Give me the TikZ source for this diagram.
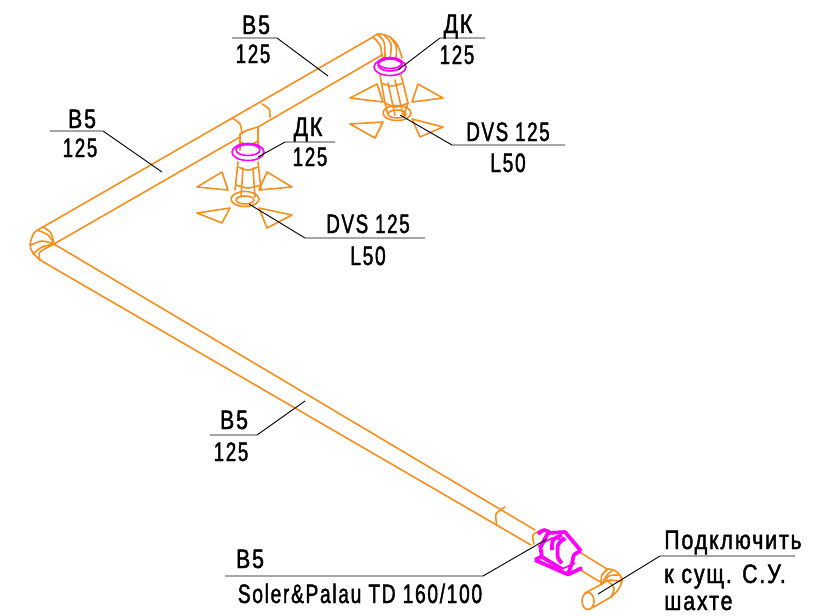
\documentclass[tikz,border=0pt]{standalone}
\usepackage{graphicx}
\usepackage{fontspec}
\setmainfont[FakeStretch=0.8,LetterSpace=7,FakeBold=1.6]{Liberation Sans}
\definecolor{pipe}{RGB}{247,142,30}
\definecolor{fan}{RGB}{255,0,255}
\newcommand\narrowed[2]{\scalebox{#1}[1]{#2}}
\tikzset{
  pipeline/.style={draw=pipe,line width=1.2pt,line join=round,line cap=round},
  fanline/.style={draw=fan,line width=1.2pt,line join=round},
  fanthick/.style={draw=fan,line width=2.8pt,line join=round},
  leader/.style={draw=black,line width=.7pt},
  lbl/.style={font=\fontsize{20}{22}\selectfont,text=black,inner sep=0pt,anchor=base},
  lbll/.style={lbl,anchor=base west},
}
\begin{document}
\begin{tikzpicture}[x=.75pt,y=-.75pt]
\useasboundingbox (0,0) rectangle (821,615);
% ---- pipes
\draw[pipeline] (43,227) -- (373,37);
\draw[pipeline] (54,244) -- (240,137);
\draw[pipeline] (258,127) -- (382,55);
\draw[pipeline] (54,244) -- (535,530);
\draw[pipeline] (40,260) -- (531,545);
\draw[pipeline] (581,553) -- (607,569);
\draw[pipeline] (577,568) -- (602,583);
% corner elbow
\draw[pipeline] plot[smooth] coordinates {(43,227) (34,233) (30,245) (33,253) (40,260)};
\draw[pipeline] plot[smooth] coordinates {(43,227) (51,233) (54,244)};
\draw[pipeline] plot[smooth] coordinates {(37,230) (48,235) (54,244)};
\draw[pipeline] plot[smooth] coordinates {(31,245) (42,241) (54,244)};
\draw[pipeline] plot[smooth] coordinates {(33,254) (42,247) (54,244)};
\draw[pipeline] plot[smooth] coordinates {(40,260) (40,252) (54,244)};
% pipe joints
\draw[pipeline] plot[smooth] coordinates {(232,118) (240,124) (242,134)};
\draw[pipeline] plot[smooth] coordinates {(262,104) (269,109) (270,117)};
\draw[pipeline] plot[smooth] coordinates {(505,507) (496,514) (497,526)};
\draw[pipeline] plot[smooth] coordinates {(541,530) (533,535) (534,544)};
% top elbow
\draw[pipeline] plot[smooth] coordinates {(373,37) (379,34) (390,37) (398,46) (402,58)};
\draw[pipeline] plot[smooth] coordinates {(373,37) (380,45) (382,55) (384,60)};
\draw[pipeline] plot[smooth] coordinates {(377,34) (384,42) (385,58)};
\draw[pipeline] plot[smooth] coordinates {(384,35) (391,44) (390,59)};
\draw[pipeline] plot[smooth] coordinates {(390,37) (396,46) (396,59)};
% right drop
\draw[pipeline] (380,75) -- (385,103) -- (388,115);
\draw[pipeline] (401,75) -- (408,103) -- (404,115);
\draw[pipeline] plot[smooth] coordinates {(381,83) (392,86) (403,83)};
\draw[pipeline] plot[smooth] coordinates {(385,103) (396,107) (408,103)};
\draw[pipeline] (388,83) -- (395,115);
\draw[pipeline] (395,80) -- (403,115);
\draw[pipeline] (397,113) ellipse [x radius=14,y radius=7.5];
\draw[pipeline] (397,114) ellipse [x radius=9,y radius=4];
\draw[pipeline] (350,98) -- (377,84) -- (383,102) -- cycle;
\draw[pipeline] (412,102) -- (418,84) -- (443,98) -- cycle;
\draw[pipeline] (350,124) -- (383,122) -- (375,138) -- cycle;
\draw[pipeline] (412,119) -- (443,127) -- (420,137) -- cycle;
\draw[fanline] (390,67) ellipse [x radius=16,y radius=8.5];
\draw[fanline] (390,65) ellipse [x radius=12,y radius=6];
\draw[fanline] (390,63) ellipse [x radius=12,y radius=5.5];
% left drop
\draw[pipeline] plot[smooth] coordinates {(240,134) (248,130) (258,127)};
\draw[pipeline] (240,134) -- (240,150);
\draw[pipeline] (258,127) -- (258,148);
\draw[pipeline] plot[smooth] coordinates {(240,142) (249,145) (258,141)};
\draw[pipeline] (238,162) -- (235,190);
\draw[pipeline] (258,162) -- (261,190);
\draw[pipeline] plot[smooth] coordinates {(238,167) (248,170) (258,167)};
\draw[pipeline] plot[smooth] coordinates {(236,185) (248,188) (261,185)};
\draw[pipeline] (243,168) -- (241,197);
\draw[pipeline] (253,168) -- (255,197);
\draw[pipeline] (245,199) ellipse [x radius=14,y radius=7.5];
\draw[pipeline] (245,200) ellipse [x radius=9,y radius=4];
\draw[pipeline] (197,187) -- (222,172) -- (228,190) -- cycle;
\draw[pipeline] (259,190) -- (267,172) -- (292,187) -- cycle;
\draw[pipeline] (197,213) -- (230,208) -- (222,223) -- cycle;
\draw[pipeline] (259,208) -- (292,215) -- (267,228) -- cycle;
\draw[fanline] (248,152) ellipse [x radius=16,y radius=8.5];
\draw[fanline] (248,150) ellipse [x radius=12,y radius=5.5];
% fan
\draw[fanthick] (535,560) -- (568,574.5) -- (582,568);
\draw[fanthick] (535,560) -- (542,556);
\draw[fanthick] (568,574) -- (572,563);
\draw[fanthick] (540,545) -- (542,557) -- (562,569);
\draw[fanthick] plot[smooth] coordinates {(538,534) (544,530) (549,532)};
\draw[fanthick] (548,533) -- (565,532) -- (581,551);
\draw[fanthick] (548,533) -- (540,548);
\draw[fanthick] plot[smooth] coordinates {(581,551) (574,555) (572,565)};
\draw[fanthick] plot[smooth] coordinates {(565,538) (558,545) (558,558) (562,563)};
\draw[fanthick] plot[smooth] coordinates {(562,535) (553,540) (552,550)};
\draw[fanline] (543,543) -- (552,538) -- (566,540);
\draw[fanline] (562,569) -- (575,563);
% outlet
\draw[pipeline] plot[smooth] coordinates {(602,575) (608,569) (617,572) (622,580) (618,590) (611,597)};
\draw[pipeline] plot[smooth] coordinates {(608,569) (602,575) (601,584)};
\draw[pipeline] plot[smooth] coordinates {(613,570) (607,575) (602,584)};
\draw[pipeline] plot[smooth] coordinates {(618,575) (609,576) (602,584)};
\draw[pipeline] plot[smooth] coordinates {(622,582) (610,580) (602,584)};
\draw[pipeline] plot[smooth] coordinates {(607,580) (614,588) (611,597)};
\draw[pipeline] (585,593) -- (602,584);
\draw[pipeline] (592,608) -- (611,597);
\draw[pipeline] (588,601) ellipse [x radius=6,y radius=8.5];
% ---- labels
\node[lbl] (a1) at (256,34) {B5};
\node[lbl] (a2) at (253,63) {\narrowed{.88}{125}};
\node[lbl] (b1) at (82,128) {B5};
\node[lbl] (b2) at (80,157) {\narrowed{.88}{125}};
\node[lbl] (c1) at (458,33) {ДК};
\node[lbl] (c2) at (457,64) {\narrowed{.88}{125}};
\node[lbl] (d1) at (308,136) {ДК};
\node[lbl] (d2) at (310,166) {\narrowed{.88}{125}};
\node[lbl] (e1) at (508,141) {\narrowed{.88}{DVS 125}};
\node[lbl] (e2) at (508,172) {\narrowed{.9}{L50}};
\node[lbl] (f1) at (368,233) {\narrowed{.88}{DVS 125}};
\node[lbl] (f2) at (368,265) {\narrowed{.9}{L50}};
\node[lbl] (g1) at (234,429) {B5};
\node[lbl] (g2) at (231,461) {\narrowed{.88}{125}};
\node[lbl] (h1) at (250,568) {B5};
\node[lbl] (h2) at (360,603) {\narrowed{.9}{Soler\&Palau TD 160/100}};
\node[lbll] (k1) at (664,549) {\narrowed{1.0}{Подключить}};
\node[lbll] (k2) at (664,583) {к сущ. С.У.};
\node[lbll] (k3) at (664,610) {шахте};
% ---- leaders
\coordinate (a0) at (232,38); \coordinate (a3) at (277,38); \coordinate (a4) at (328,76);
\draw[leader] (a0) -- (a3) -- (a4);
\coordinate (b0) at (50,131); \coordinate (b3) at (103,131); \coordinate (b4) at (162,172);
\draw[leader] (b0) -- (b3) -- (b4);
\coordinate (c0) at (485,38); \coordinate (c3) at (440,38); \coordinate (c4) at (398,70);
\draw[leader] (c0) -- (c3) -- (c4);
\coordinate (d0) at (335,142); \coordinate (d3) at (285,142); \coordinate (d4) at (258,157);
\draw[leader] (d0) -- (d3) -- (d4);
\coordinate (e0) at (565,145); \coordinate (e3) at (452,145); \coordinate (e4) at (400,115);
\draw[leader] (e0) -- (e3) -- (e4);
\coordinate (f0) at (425,238); \coordinate (f3) at (305,238); \coordinate (f4) at (249,204);
\draw[leader] (f0) -- (f3) -- (f4);
\coordinate (g0) at (210,435); \coordinate (g3) at (257,435); \coordinate (g4) at (305,401);
\draw[leader] (g0) -- (g3) -- (g4);
\coordinate (h0) at (225,576); \coordinate (h3) at (483,576); \coordinate (h4) at (547,539);
\draw[leader] (h0) -- (h3) -- (h4);
\coordinate (k0) at (795,556); \coordinate (k4) at (660,556); \coordinate (k5) at (598,594);
\draw[leader] (k0) -- (k4) -- (k5);
\end{tikzpicture}
\end{document}
